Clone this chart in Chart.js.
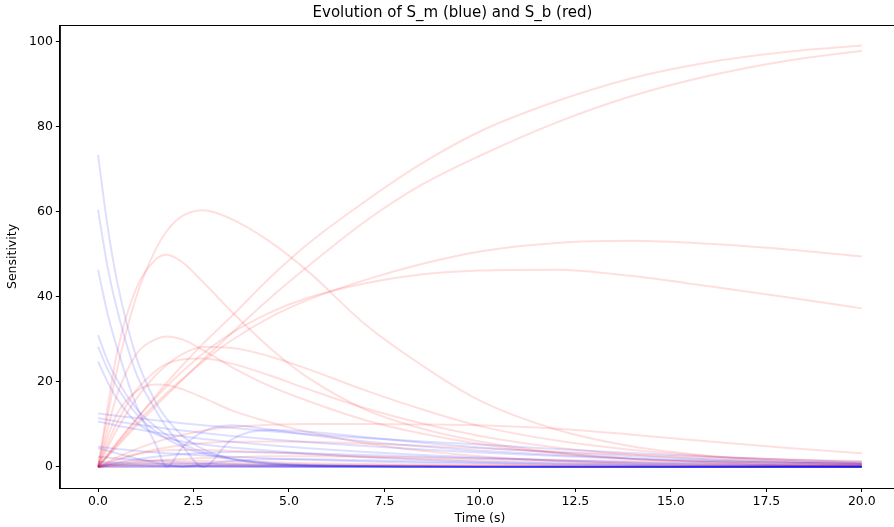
<!DOCTYPE html>
<html>
<head>
<meta charset="utf-8">
<script src="https://cdn.jsdelivr.net/npm/chart.js@4.4.0/dist/chart.umd.min.js"></script>
<style>
  html, body { margin: 0; padding: 0; background: #fff; overflow: hidden; }
  #wrap { width: 894px; height: 527px; overflow: hidden; }
</style>
</head>
<body>
<div id="wrap"><canvas id="myChart" width="906" height="527"></canvas></div>
<script>
// time samples (s)
var T = [0, 0.25, 0.5, 1, 1.5, 1.8, 2.2, 2.75, 3.5, 4.5, 5.5, 7, 8.5, 10, 12, 14, 16, 18, 20];

// S_b curves (red)
var r1 = [0, 2.8, 5.6, 11.2, 16.6, 19.8, 23.8, 29, 35.5, 44.5, 52.5, 62.5, 71.5, 78.9, 86, 91.5, 95.2, 97.6, 99.1];
var r2 = [0, 2.4, 4.8, 9.6, 14.2, 16.9, 20.4, 25.2, 31.5, 39.7, 47.2, 57.8, 66.5, 73.2, 81, 87.3, 92, 95.5, 97.9];
var r3 = [0, 2.6, 5.2, 10.2, 14.8, 17.4, 20.6, 24.8, 29.8, 35.2, 39.3, 44, 47.8, 50.7, 52.7, 53.2, 52.5, 51.2, 49.5];
var r4 = [0, 2.9, 5.8, 11.2, 16.2, 19, 22.4, 26.7, 31.5, 36.3, 39.8, 43.2, 45.3, 46.2, 46.4, 44.9, 42.5, 40, 37.3];
var r5 = [0, 12, 23, 40, 51, 55.5, 59, 60.4, 58.3, 53, 46, 33.5, 23.8, 15.6, 8.8, 4.8, 2.6, 1.4, 0.8];
var r6 = [0, 14, 27, 42, 48.7, 49.9, 48.2, 43.5, 36.5, 28, 21, 13.5, 9, 6, 3.4, 1.9, 1.1, 0.6, 0.4];
var r7 = [0, 9, 17, 26.5, 30, 30.7, 30, 27.5, 23.5, 19, 15.5, 11, 7.8, 5.4, 3.2, 1.9, 1.1, 0.6, 0.4];
var r8 = [0, 4.5, 8.8, 16, 21.5, 24, 26.5, 28.2, 28, 26, 23, 18, 13.5, 9.6, 6.2, 4, 2.6, 1.7, 1.1];
var r9 = [0, 5.5, 10.5, 18, 22.5, 24.3, 25.3, 25.5, 24.3, 21.5, 18.3, 13.8, 10.2, 7.3, 4.6, 2.9, 1.8, 1.1, 0.7];
var r10 = [0, 7, 12.5, 17.8, 19.4, 19.3, 18.3, 16.3, 13.3, 10.5, 8.2, 5.6, 3.8, 2.5, 1.4, 0.8, 0.5, 0.3, 0.2];
var r11 = [0, 1.2, 2.3, 4.2, 5.8, 6.6, 7.5, 8.5, 9.4, 9.9, 10.1, 10.1, 10, 9.8, 9, 7.6, 6, 4.5, 3.2];
var r12 = [0, 0.8, 1.6, 3, 4.1, 4.6, 5.1, 5.6, 5.9, 6, 5.9, 5.5, 5, 4.4, 3.6, 2.9, 2.3, 1.8, 1.4];
var r13 = [0, 1, 1.8, 3, 3.7, 3.9, 4, 4, 3.8, 3.4, 3, 2.4, 1.9, 1.5, 1.1, 0.8, 0.6, 0.4, 0.3];
var r14 = [0, 0.3, 0.6, 1.1, 1.5, 1.7, 1.9, 2.1, 2.3, 2.5, 2.5, 2.4, 2.2, 2, 1.7, 1.4, 1.2, 1, 0.8];
var r15 = [0, 0.6, 1, 1.4, 1.5, 1.5, 1.5, 1.4, 1.3, 1.1, 0.9, 0.7, 0.5, 0.4, 0.3, 0.2, 0.1, 0.1, 0.1];
var r16 = [0, 0.2, 0.35, 0.5, 0.55, 0.55, 0.55, 0.5, 0.45, 0.4, 0.35, 0.3, 0.25, 0.2, 0.15, 0.1, 0.1, 0.05, 0.05];
var r17 = [0, 0.1, 0.15, 0.2, 0.2, 0.2, 0.2, 0.2, 0.2, 0.2, 0.2, 0.2, 0.2, 0.15, 0.15, 0.1, 0.1, 0.1, 0.1];
var r18 = [0, 0.3, 0.5, 0.8, 0.9, 0.9, 0.9, 0.85, 0.8, 0.7, 0.6, 0.5, 0.4, 0.3, 0.25, 0.2, 0.15, 0.1, 0.1];

// S_m curves (blue)
var b1 = [73.4, 56.6, 43.6, 25.9, 15.4, 11.3, 7.4, 4.2, 1.9, 0.7, 0.25, 0.08, 0.03, 0, 0, 0, 0, 0, 0];
var b2 = [60.5, 47, 37, 22, 13.5, 9.2, 5, 0, 6.5, 8.7, 8.3, 7, 5.7, 4.6, 3.4, 2.5, 1.8, 1.3, 0.9];
var b3 = [46.4, 36, 28, 14.5, 5.5, 0, 4.5, 8.3, 9.8, 8.8, 7.6, 6, 4.8, 3.8, 2.8, 2, 1.4, 1, 0.7];
var b4 = [31, 25, 20.5, 13.8, 9.5, 7.5, 5.5, 3.5, 2, 1, 0.5, 0.2, 0.1, 0, 0, 0, 0, 0, 0];
var b5 = [28.3, 23, 18.8, 12.5, 8.4, 6.6, 4.8, 3.1, 1.8, 0.8, 0.4, 0.15, 0.05, 0, 0, 0, 0, 0, 0];
var b6 = [24.8, 20, 16, 10.5, 7.8, 6.8, 6, 5.3, 4.6, 3.8, 3.1, 2.3, 1.7, 1.2, 0.8, 0.5, 0.3, 0.2, 0.1];
var b7 = [12.6, 12.3, 12, 11.5, 11, 10.7, 10.3, 9.8, 9.2, 8.4, 7.7, 6.8, 6, 5.3, 4.2, 3.3, 2.4, 1.7, 1.2];
var b8 = [11.5, 11.1, 10.7, 10, 9.4, 9, 8.6, 8, 7.3, 6.5, 5.8, 4.9, 4.1, 3.4, 2.6, 1.9, 1.4, 1, 0.7];
var b9 = [10.7, 10.2, 9.7, 8.9, 8.1, 7.7, 7.2, 6.6, 5.9, 5.1, 4.4, 3.5, 2.8, 2.2, 1.5, 1, 0.7, 0.4, 0.3];
var b10 = [4.8, 4.5, 4.2, 3.8, 3.4, 3.2, 3, 2.7, 2.4, 2, 1.7, 1.3, 1, 0.8, 0.5, 0.35, 0.25, 0.15, 0.1];
var b11 = [2.4, 2.2, 2, 1.7, 1.4, 1.3, 1.1, 0.9, 0.7, 0.5, 0.35, 0.2, 0.12, 0.07, 0.03, 0, 0, 0, 0];
var b12 = [1.2, 1.1, 1, 0.9, 0.8, 0.75, 0.7, 0.6, 0.5, 0.4, 0.3, 0.2, 0.15, 0.1, 0.05, 0, 0, 0, 0];
var b13 = [0, 0.5, 1, 1.8, 2.4, 2.7, 3, 3.3, 3.5, 3.4, 3.2, 2.8, 2.4, 2, 1.5, 1.1, 0.8, 0.6, 0.4];
var b14 = [4.4, 3.8, 3.2, 2, 1, 0.5, 0, 0.7, 1.4, 1.8, 1.8, 1.6, 1.3, 1, 0.7, 0.5, 0.3, 0.2, 0.15];
var b15 = [0.5, 0.45, 0.4, 0.35, 0.3, 0.3, 0.25, 0.2, 0.2, 0.15, 0.1, 0.1, 0.05, 0, 0, 0, 0, 0, 0];
var b16 = [0, 0, 0, 0, 0, 0, 0, 0, 0, 0, 0, 0, 0, 0, 0, 0, 0, 0, 0];
var b17 = [0.1, 0.1, 0.1, 0.05, 0.05, 0.05, 0.05, 0.05, 0.05, 0.05, 0.05, 0, 0, 0, 0, 0, 0, 0, 0];
var b18 = [0.8, 0.7, 0.6, 0.45, 0.35, 0.3, 0.25, 0.2, 0.15, 0.1, 0.05, 0, 0, 0, 0, 0, 0, 0, 0];

var blueSeries = [b1, b2, b3, b4, b5, b6, b7, b8, b9, b10, b11, b12, b13, b14, b15, b16, b17, b18];
var redSeries = [r1, r2, r3, r4, r5, r6, r7, r8, r9, r10, r11, r12, r13, r14, r15, r16, r17, r18];

var xTicks = [0, 2.5, 5, 7.5, 10, 12.5, 15, 17.5, 20];
var yTicks = [0, 20, 40, 60, 80, 100];

function makeSet(vals, color) {
    return {
        data: vals.map(function(v, i) { return {x: T[i], y: v}; }),
        borderColor: color,
        borderWidth: 2,
        pointRadius: 0,
        fill: false,
        cubicInterpolationMode: 'monotone'
    };
}

var datasets = [];
blueSeries.forEach(function(s) { datasets.push(makeSet(s, 'rgba(0, 0, 255, 0.13)')); });
redSeries.forEach(function(s) { datasets.push(makeSet(s, 'rgba(255, 0, 0, 0.13)')); });

// matplotlib-like box around the axes
var frame = {
    id: 'frame',
    afterDraw: function(chart) {
        var a = chart.chartArea;
        var c = chart.ctx;
        c.save();
        c.strokeStyle = '#000';
        c.lineWidth = 1;
        c.strokeRect(a.left + 0.5, a.top + 0.5, a.right - a.left, a.bottom - a.top);
        c.restore();
    }
};

var font = "'DejaVu Sans', sans-serif";
var ctx = document.getElementById('myChart').getContext('2d');
var myChart = new Chart(ctx, {
    type: 'line',
    data: { datasets: datasets },
    plugins: [frame],
    options: {
        responsive: false,
        animation: false,
        events: [],
        layout: { padding: { left: 5, right: 6, top: 0, bottom: 1 } },
        plugins: {
            legend: { display: false },
            tooltip: { enabled: false },
            title: {
                display: true,
                text: 'Evolution of S_m (blue) and S_b (red)',
                color: '#000',
                font: { family: font, size: 15, weight: 'normal' },
                padding: { top: 4, bottom: 3 }
            }
        },
        scales: {
            x: {
                type: 'linear',
                min: -1,
                max: 21,
                afterBuildTicks: function(scale) {
                    scale.ticks = xTicks.map(function(v) { return {value: v}; });
                },
                ticks: {
                    color: '#000',
                    font: { family: font, size: 12.5 },
                    maxRotation: 0,
                    padding: 2,
                    callback: function(v) { return Number(v).toFixed(1); }
                },
                grid: { drawOnChartArea: false, drawTicks: true, tickLength: 4, color: '#000' },
                border: { display: true, color: '#000' },
                title: {
                    display: true,
                    text: 'Time (s)',
                    color: '#000',
                    font: { family: font, size: 12.5 },
                    padding: { top: 0, bottom: 0 }
                }
            },
            y: {
                type: 'linear',
                min: -4.95,
                max: 103.95,
                afterBuildTicks: function(scale) {
                    scale.ticks = yTicks.map(function(v) { return {value: v}; });
                },
                ticks: {
                    color: '#000',
                    font: { family: font, size: 12.5 },
                    padding: 3
                },
                grid: { drawOnChartArea: false, drawTicks: true, tickLength: 4, color: '#000' },
                border: { display: true, color: '#000' },
                title: {
                    display: true,
                    text: 'Sensitivity',
                    color: '#000',
                    font: { family: font, size: 12.5 },
                    padding: { top: 0, bottom: 6 }
                }
            }
        }
    }
});
</script>
</body>
</html>
